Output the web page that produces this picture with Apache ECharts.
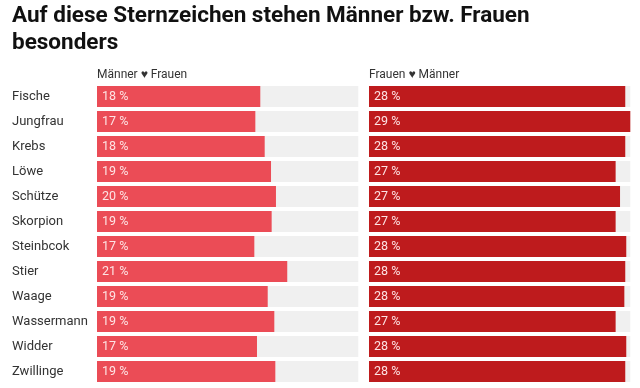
<!DOCTYPE html>
<html>
<head>
<meta charset="utf-8">
<script src="https://cdn.jsdelivr.net/npm/echarts@6/dist/echarts.min.js"></script>
<style>
html,body{margin:0;padding:0;background:#fff;}
#chart{width:640px;height:388px;}
</style>
</head>
<body>
<div id="chart"></div>
<script>
const titleText = 'Auf diese Sternzeichen stehen Männer bzw. Frauen\nbesonders';
const leftHeader = 'Männer ♥ Frauen';
const rightHeader = 'Frauen ♥ Männer';
const categories = ['Fische','Jungfrau','Krebs','Löwe','Schütze','Skorpion','Steinbcok','Stier','Waage','Wassermann','Widder','Zwillinge'];
// Männer ♥ Frauen (%)
const menLoveWomen = [17.81,17.27,18.29,18.98,19.52,19.05,17.16,20.75,18.62,19.34,17.45,19.45];
// Frauen ♥ Männer (%)
const womenLoveMen = [27.95,28.5,27.95,26.9,27.38,26.9,28.06,27.95,27.85,26.9,28.06,27.95];

const maxVal = Math.max(...menLoveWomen, ...womenLoveMen);
const FONT = 'Roboto';

const chart = echarts.init(document.getElementById('chart'), null, {renderer: 'canvas'});

function barSeries(data, color, xi) {
  return {
    type: 'bar',
    xAxisIndex: xi,
    yAxisIndex: xi,
    data: data,
    barWidth: 21,
    showBackground: true,
    backgroundStyle: {color: '#f0f0f0'},
    itemStyle: {color: color},
    label: {
      show: true,
      position: 'insideLeft',
      distance: 5,
      color: '#fde3e4',
      fontFamily: FONT,
      fontSize: 12.5,
      formatter: p => Math.round(p.value) + ' %'
    },
    silent: true,
    animation: false
  };
}

chart.setOption({
  animation: false,
  title: [
    {text: titleText, left: 12, top: 3, padding: 0,
     textStyle: {fontFamily: FONT, fontWeight: 'bold', fontSize: 22.5, lineHeight: 27, color: '#111'}},
    {text: leftHeader, left: 97, top: 69, padding: 0,
     textStyle: {fontFamily: FONT, fontWeight: 'normal', fontSize: 12, color: '#333'}},
    {text: rightHeader, left: 369, top: 69, padding: 0,
     textStyle: {fontFamily: FONT, fontWeight: 'normal', fontSize: 12, color: '#333'}}
  ],
  grid: [
    {left: 97, top: 84, width: 261.3, height: 300},
    {left: 369, top: 84, width: 261.3, height: 300}
  ],
  xAxis: [0, 1].map(i => ({
    gridIndex: i, type: 'value', min: 0, max: maxVal,
    show: false
  })),
  yAxis: [
    {gridIndex: 0, type: 'category', data: categories, inverse: true,
     axisLine: {show: false}, axisTick: {show: false}, splitLine: {show: false},
     axisLabel: {align: 'left', margin: 85, fontFamily: FONT, fontSize: 13, color: '#333'}},
    {gridIndex: 1, type: 'category', data: categories, inverse: true,
     axisLine: {show: false}, axisTick: {show: false}, splitLine: {show: false},
     axisLabel: {show: false}}
  ],
  series: [
    barSeries(menLoveWomen, '#eb4c56', 0),
    barSeries(womenLoveMen, '#be1b1d', 1)
  ]
});
</script>
</body>
</html>
